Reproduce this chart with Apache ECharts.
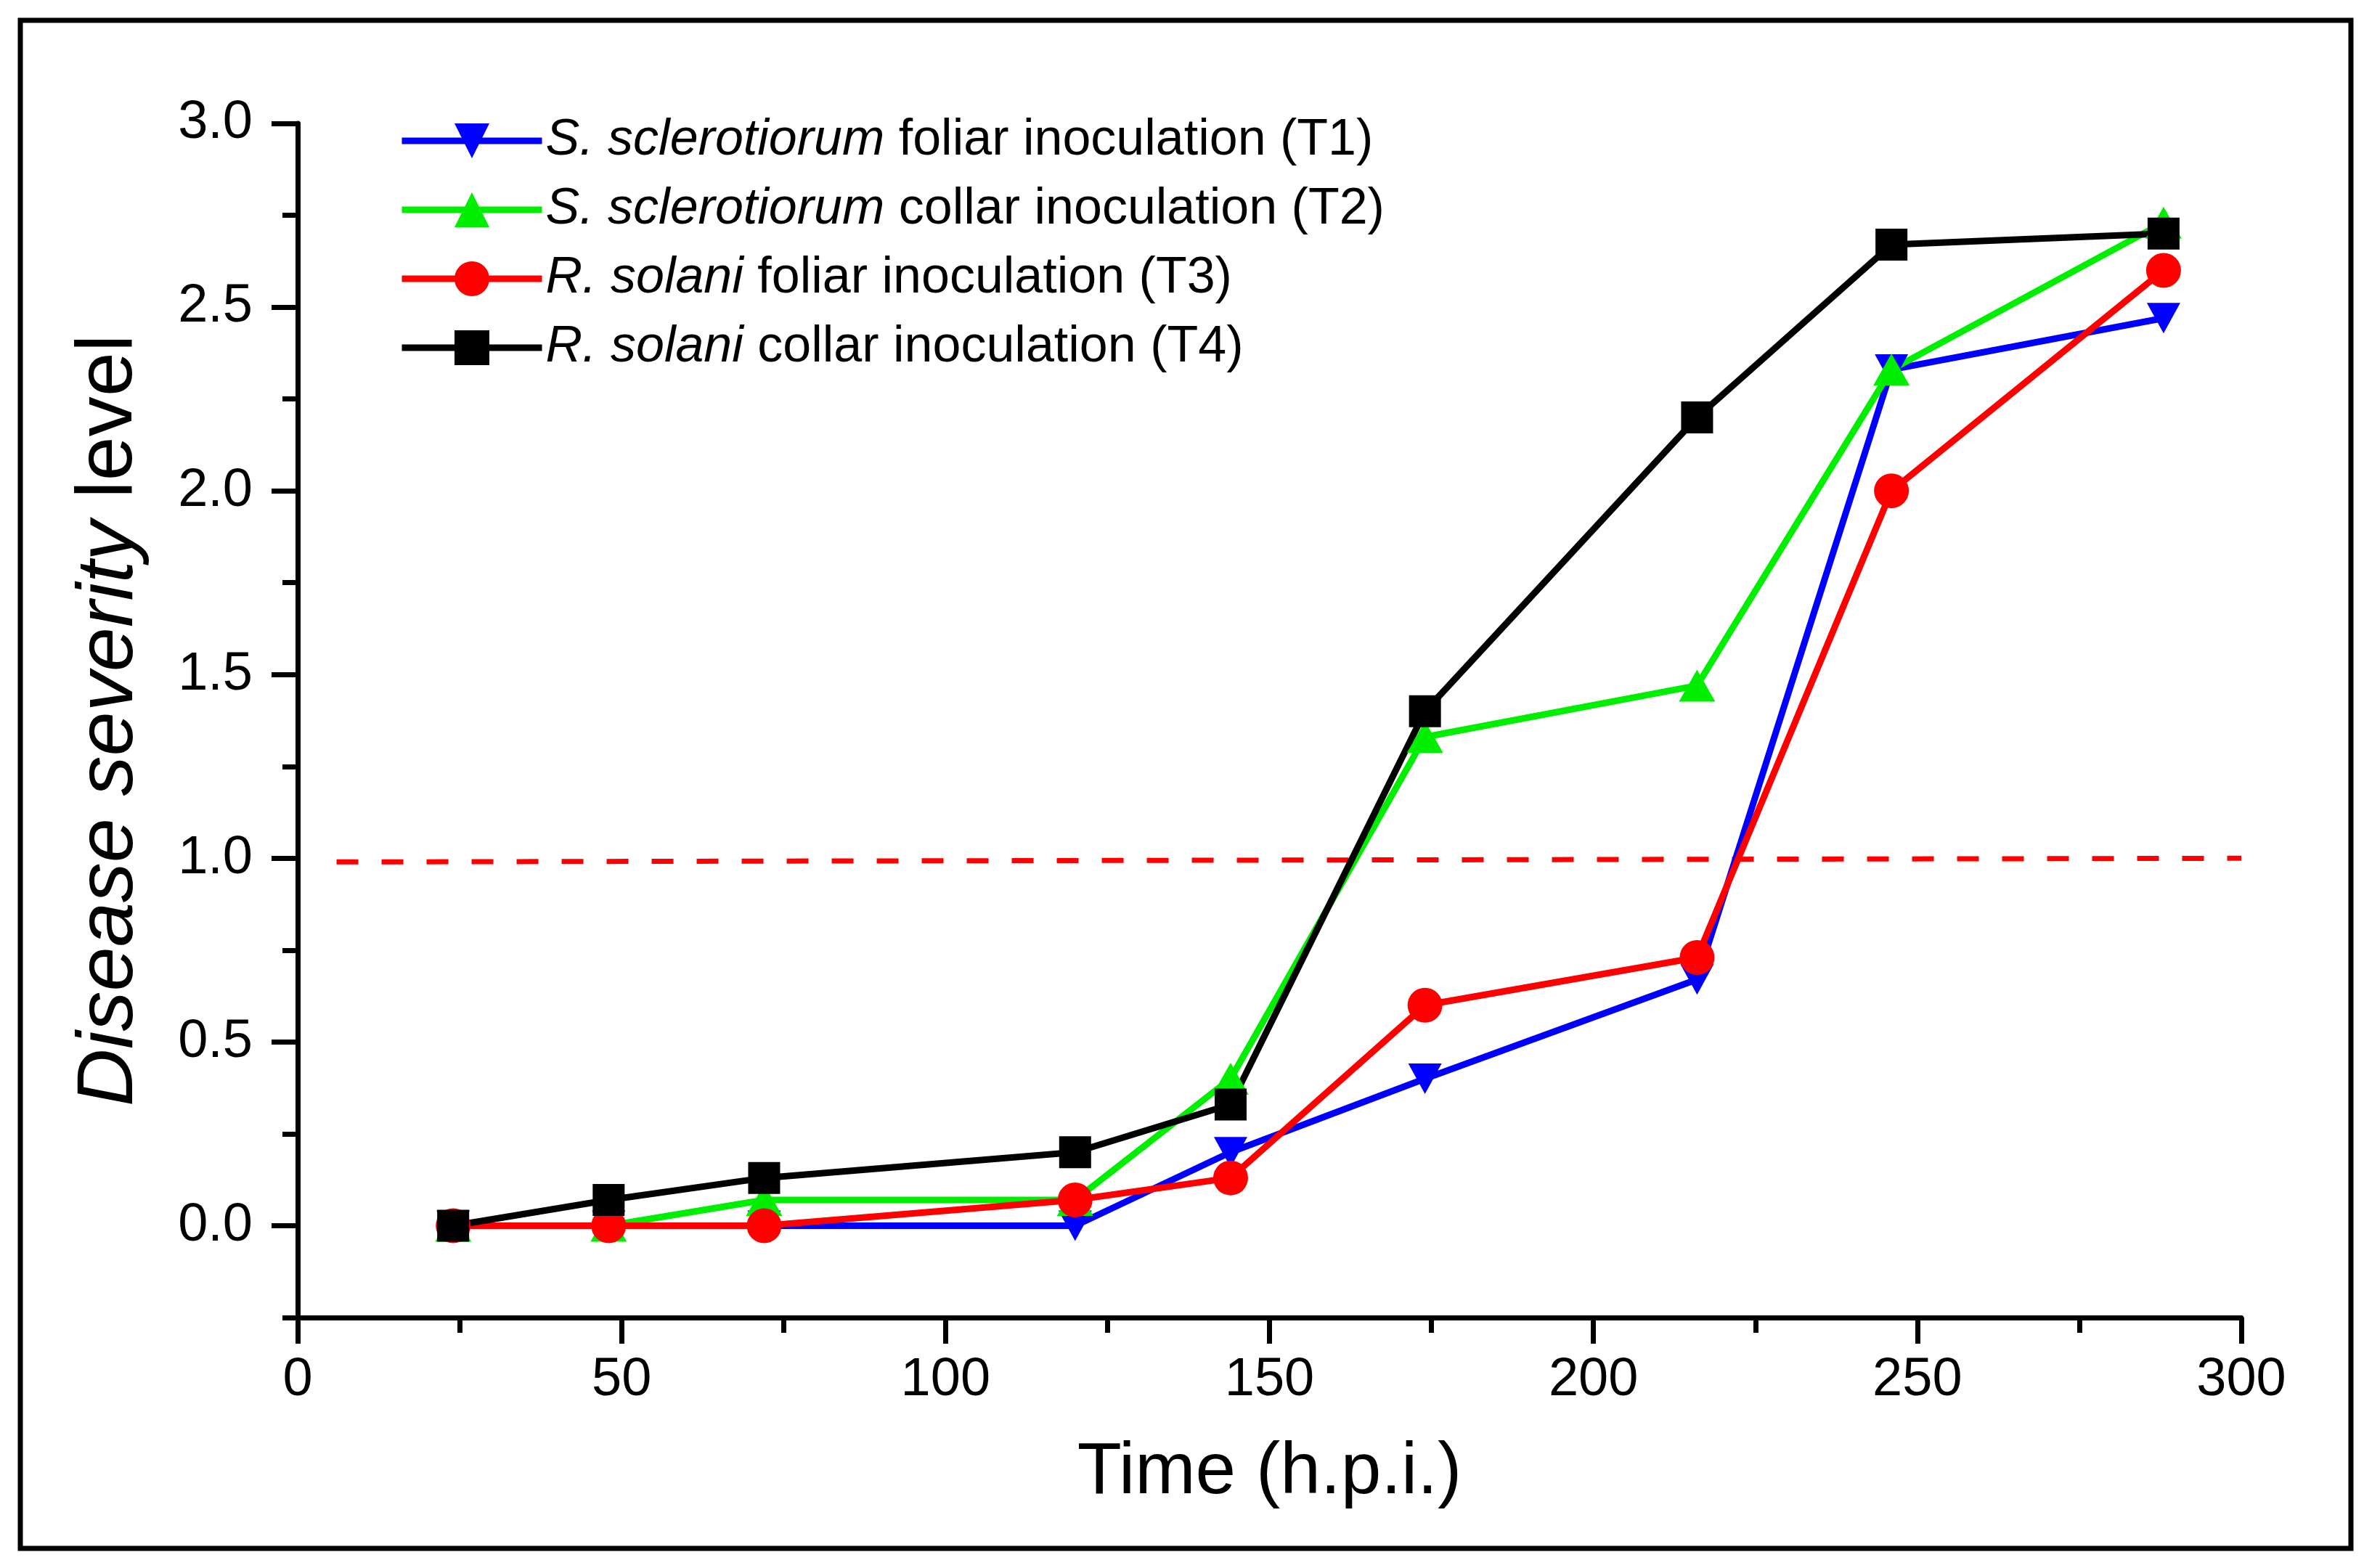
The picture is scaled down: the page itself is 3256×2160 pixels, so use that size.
<!DOCTYPE html>
<html>
<head>
<meta charset="utf-8">
<script src="https://cdn.jsdelivr.net/npm/echarts@6/dist/echarts.min.js"></script>
<style>
    html, body { margin: 0; padding: 0; background: #fff; }
    #chart { width: 3256px; height: 2160px; }
</style>
</head>
<body>
<div id="chart"></div>
<script>
// data
var hours = [24, 48, 72, 120, 144, 174, 216, 246, 288];
var t1 = [0, 0, 0, 0, 0.2, 0.4, 0.67, 2.33, 2.47];
var t2 = [0, 0, 0.07, 0.07, 0.4, 1.33, 1.47, 2.33, 2.73];
var t3 = [0, 0, 0, 0.07, 0.13, 0.6, 0.73, 2.0, 2.6];
var t4 = [0, 0.07, 0.13, 0.2, 0.33, 1.4, 2.2, 2.67, 2.7];
var species = ['S. sclerotiorum', 'S. sclerotiorum', 'R. solani', 'R. solani'];
var methods = ['foliar inoculation (T1)', 'collar inoculation (T2)', 'foliar inoculation (T3)', 'collar inoculation (T4)'];
var thresholdX = [6, 300];
var thresholdY = [0.99, 1.0];
var yMajor = [0, 0.5, 1, 1.5, 2, 2.5, 3];
var yMinor = [-0.25, 0.25, 0.75, 1.25, 1.75, 2.25, 2.75];

var FONT = '"Liberation Sans", Arial, sans-serif';

function pairs(xs, ys) {
    var res = [];
    for (var i = 0; i < xs.length; i++) {
        res.push([xs[i], ys[i]]);
    }
    return res;
}

var names = [];
for (var i = 0; i < species.length; i++) {
    names.push(species[i] + ' ' + methods[i]);
}

function makeSeries(idx, values, color, symbol, rotate, size) {
    return {
        name: names[idx],
        type: 'line',
        data: pairs(hours, values),
        symbol: symbol,
        symbolRotate: rotate,
        symbolSize: size,
        lineStyle: { width: 9, color: color },
        itemStyle: { color: color },
        z: 3
    };
}

var chart = echarts.init(document.getElementById('chart'));

var option = {
    animation: false,
    backgroundColor: '#fff',
    grid: { left: 410, right: 169, top: 170, bottom: 345 },
    graphic: [{
        type: 'rect',
        shape: { x: 28, y: 28, width: 3210, height: 2105 },
        style: { fill: null, stroke: '#000', lineWidth: 7 }
    }],
    legend: {
        orient: 'vertical',
        left: 544,
        top: 154,
        itemWidth: 193,
        itemHeight: 60,
        itemGap: 25,
        data: names,
        lineStyle: { width: 9 },
        formatter: function (name) {
            var k = names.indexOf(name);
            return '{i|' + species[k] + '} ' + methods[k];
        },
        textStyle: {
            fontFamily: FONT,
            fontSize: 70,
            lineHeight: 70,
            color: '#000',
            rich: {
                i: { fontFamily: FONT, fontSize: 70, fontStyle: 'italic', color: '#000' }
            }
        }
    },
    xAxis: {
        type: 'value',
        min: 0,
        max: 300,
        interval: 50,
        name: 'Time (h.p.i.)',
        nameLocation: 'middle',
        nameGap: 164,
        nameTextStyle: { fontFamily: FONT, fontSize: 100, color: '#000' },
        axisLine: { onZero: false, lineStyle: { color: '#000', width: 7 } },
        axisTick: { length: 36, lineStyle: { color: '#000', width: 7 } },
        minorTick: { show: true, splitNumber: 2, length: 21, lineStyle: { color: '#000', width: 7 } },
        axisLabel: { fontFamily: FONT, fontSize: 74, color: '#000', margin: 50 },
        splitLine: { show: false },
        minorSplitLine: { show: false }
    },
    yAxis: [{
        type: 'value',
        min: -0.25,
        max: 3,
        name: '{i|Disease severity} level',
        nameLocation: 'middle',
        nameGap: 204,
        nameTextStyle: {
            fontFamily: FONT,
            fontSize: 110,
            color: '#000',
            rich: {
                i: { fontFamily: FONT, fontSize: 110, fontStyle: 'italic', color: '#000' }
            }
        },
        axisLine: { show: true, lineStyle: { color: '#000', width: 7 } },
        axisTick: { show: true, length: 36, customValues: yMajor, lineStyle: { color: '#000', width: 7 } },
        axisLabel: {
            customValues: yMajor,
            fontFamily: FONT,
            fontSize: 74,
            color: '#000',
            margin: 62,
            formatter: function (v) { return v.toFixed(1); }
        },
        splitLine: { show: false }
    }, {
        // minor ticks only
        type: 'value',
        min: -0.25,
        max: 3,
        position: 'left',
        offset: 0,
        axisLine: { show: false },
        axisTick: { show: true, length: 21, customValues: yMinor, lineStyle: { color: '#000', width: 7 } },
        axisLabel: { show: false },
        splitLine: { show: false }
    }],
    series: [
        makeSeries(0, t1, '#0000ff', 'triangle', 180, [46, 42]),
        makeSeries(1, t2, '#00ee00', 'triangle', 0, [50, 44]),
        makeSeries(2, t3, '#ff0000', 'circle', 0, 48),
        makeSeries(3, t4, '#000000', 'rect', 0, 44),
        {
            type: 'line',
            data: pairs(thresholdX, thresholdY),
            symbol: 'none',
            silent: true,
            lineStyle: { color: '#ff0000', width: 7, type: [30, 32] },
            z: 2
        }
    ]
};

chart.setOption(option);
</script>
</body>
</html>
